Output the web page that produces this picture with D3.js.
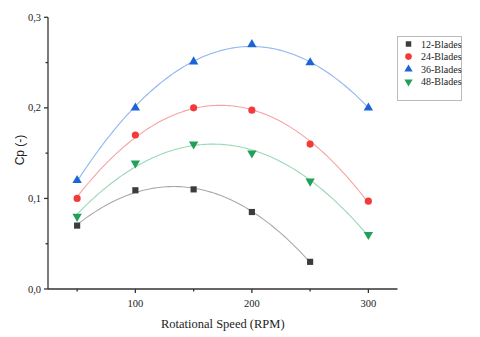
<!DOCTYPE html>
<html><head><meta charset="utf-8">
<script src="https://cdn.jsdelivr.net/npm/d3@7"></script>
<style>
html,body{margin:0;padding:0;background:#fff;}
svg{display:block;}
</style></head>
<body>
<svg id="chart" width="480" height="337"></svg>
<script>
const speeds = [50, 100, 150, 200, 250, 300];
const blades12 = [0.070, 0.109, 0.110, 0.085, 0.030];
const blades24 = [0.100, 0.170, 0.200, 0.1975, 0.160, 0.097];
const blades36 = [0.120, 0.200, 0.251, 0.270, 0.250, 0.200];
const blades48 = [0.080, 0.139, 0.160, 0.150, 0.119, 0.060];
const seriesNames = ["12-Blades", "24-Blades", "36-Blades", "48-Blades"];
const xTicks = [100, 200, 300];
const xMinor = [50, 150, 250];
const yTicks = [0, 0.1, 0.2, 0.3];
const yMinor = [0.05, 0.15, 0.25];

const series = [
  {name: seriesNames[0], values: blades12, marker: "#3c3c3c", line: "#a9a9a9", sym: d3.symbolSquare},
  {name: seriesNames[1], values: blades24, marker: "#f23a3a", line: "#f7a3a3", sym: d3.symbolCircle},
  {name: seriesNames[2], values: blades36, marker: "#1a64d8", line: "#8fb6f0", sym: d3.symbolTriangle},
  {name: seriesNames[3], values: blades48, marker: "#22a05a", line: "#9bd8b5", sym: "down"}
];

const svg = d3.select("#chart");
const x = d3.scaleLinear().domain([25, 325]).range([48, 397.5]);
const y = d3.scaleLinear().domain([0, 0.3]).range([289, 17.3]);
const fmt = d => d3.format(".1f")(d).replace(".", ",");

// quadratic least squares fit
function quadFit(xs, ys) {
  let S = Array(5).fill(0), T = Array(3).fill(0);
  xs.forEach((xv, i) => {
    for (let k = 0; k < 5; k++) S[k] += Math.pow(xv, k);
    for (let k = 0; k < 3; k++) T[k] += ys[i] * Math.pow(xv, k);
  });
  const A = [[S[0], S[1], S[2], T[0]], [S[1], S[2], S[3], T[1]], [S[2], S[3], S[4], T[2]]];
  for (let i = 0; i < 3; i++) {
    for (let j = i + 1; j < 3; j++) {
      const f = A[j][i] / A[i][i];
      for (let k = i; k < 4; k++) A[j][k] -= f * A[i][k];
    }
  }
  const c = [0, 0, 0];
  for (let i = 2; i >= 0; i--) {
    let s = A[i][3];
    for (let k = i + 1; k < 3; k++) s -= A[i][k] * c[k];
    c[i] = s / A[i][i];
  }
  return xv => c[0] + c[1] * xv + c[2] * xv * xv;
}

// fitted curves
series.forEach(s => {
  const xs = speeds.slice(0, s.values.length);
  const f = quadFit(xs, s.values);
  const pts = d3.range(xs[0], xs[xs.length - 1] + 0.01, 2).map(v => [v, f(v)]);
  svg.append("path").datum(pts)
    .attr("d", d3.line().x(d => x(d[0])).y(d => y(d[1])))
    .attr("fill", "none").attr("stroke", s.line).attr("stroke-width", 1.1);
});

function symPath(sym, size) {
  if (sym === "down") return d3.symbol(d3.symbolTriangle, size)();
  return d3.symbol(sym, size)();
}

// markers
series.forEach(s => {
  svg.append("g").selectAll("path").data(s.values).join("path")
    .attr("d", symPath(s.sym, s.sym === d3.symbolCircle ? 40 : 38))
    .attr("transform", (d, i) => `translate(${x(speeds[i])},${y(d)})` + (s.sym === "down" ? " rotate(180)" : ""))
    .attr("fill", s.marker);
});

// axes
const ax = svg.append("g").attr("fill", "none").attr("stroke", "#333").attr("stroke-width", 1.3);
ax.append("line").attr("x1", x(25)).attr("x2", x(325)).attr("y1", y(0)).attr("y2", y(0));
ax.append("line").attr("x1", x(25)).attr("x2", x(25)).attr("y1", y(0)).attr("y2", y(0.3));
xTicks.forEach(t => ax.append("line").attr("x1", x(t)).attr("x2", x(t)).attr("y1", y(0)).attr("y2", y(0) + 4));
xMinor.forEach(t => ax.append("line").attr("x1", x(t)).attr("x2", x(t)).attr("y1", y(0)).attr("y2", y(0) + 2.5));
yTicks.forEach(t => ax.append("line").attr("x1", x(25)).attr("x2", x(25) - 4).attr("y1", y(t)).attr("y2", y(t)));
yMinor.forEach(t => ax.append("line").attr("x1", x(25)).attr("x2", x(25) - 2.5).attr("y1", y(t)).attr("y2", y(t)));

const serif = "'Liberation Serif', 'Times New Roman', serif";
svg.append("g").selectAll("text").data(xTicks).join("text")
  .attr("x", d => x(d)).attr("y", 307).attr("text-anchor", "middle")
  .attr("font-family", serif).attr("font-size", 10.5).attr("fill", "#222").text(d => d);
svg.append("g").selectAll("text").data(yTicks).join("text")
  .attr("x", 41).attr("y", d => y(d) + 3.5).attr("text-anchor", "end")
  .attr("font-family", serif).attr("font-size", 10.5).attr("fill", "#222").text(fmt);

svg.append("text").attr("x", (x(25) + x(325)) / 2).attr("y", 328).attr("text-anchor", "middle")
  .attr("font-family", serif).attr("font-size", 12.5).attr("fill", "#222").text("Rotational Speed (RPM)");
svg.append("text").attr("transform", "translate(24,150) rotate(-90)").attr("text-anchor", "middle")
  .attr("font-family", "'Liberation Sans', Arial, sans-serif").attr("font-size", 12).attr("fill", "#222").text("Cp (-)");

// legend
const lg = svg.append("g");
lg.append("rect").attr("x", 397.5).attr("y", 36.5).attr("width", 64).attr("height", 64)
  .attr("fill", "#fff").attr("stroke", "#bbb").attr("stroke-width", 1);
series.forEach((s, i) => {
  const cy = 44 + i * 12.6;
  lg.append("path").attr("d", symPath(s.sym, s.sym === d3.symbolCircle ? 34 : 30))
    .attr("transform", `translate(408.5,${cy})` + (s.sym === "down" ? " rotate(180)" : ""))
    .attr("fill", s.marker);
  lg.append("text").attr("x", 421).attr("y", cy + 3.5).attr("font-family", serif)
    .attr("font-size", 10).attr("fill", "#222").text(s.name);
});
</script>
</body></html>
